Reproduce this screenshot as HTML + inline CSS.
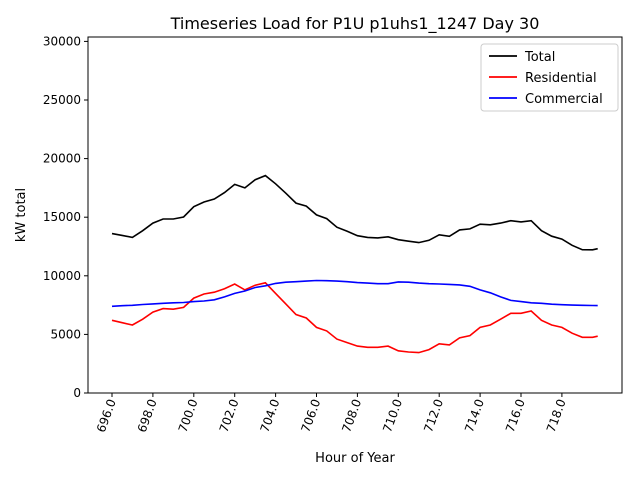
<!DOCTYPE html>
<html><head><meta charset="utf-8"><style>
body{margin:0;background:#fff;}
svg text{font-family:"DejaVu Sans","Liberation Sans",sans-serif;fill:#000;}
</style></head><body>
<svg id="chart" width="640" height="480" xmlns="http://www.w3.org/2000/svg">
<rect width="640" height="480" fill="#fff"/>
<text x="355" y="29" text-anchor="middle" font-size="16">Timeseries Load for P1U p1uhs1_1247  Day 30</text>
<g id="plot"></g>
<text x="355" y="462" text-anchor="middle" font-size="13">Hour of Year</text>
<text transform="translate(25,215) rotate(-90)" text-anchor="middle" font-size="13">kW total</text>
</svg>
<script>
const hours=[696,696.5,697,697.5,698,698.5,699,699.5,700,700.5,701,701.5,702,702.5,703,703.5,704,704.5,705,705.5,706,706.5,707,707.5,708,708.5,709,709.5,710,710.5,711,711.5,712,712.5,713,713.5,714,714.5,715,715.5,716,716.5,717,717.5,718,718.5,719,719.5,719.75];
const residential=[6200,6000,5800,6300,6900,7200,7150,7300,8100,8450,8600,8900,9300,8800,9200,9400,8500,7600,6700,6400,5600,5300,4600,4300,4000,3900,3900,4000,3600,3500,3450,3700,4200,4100,4700,4900,5600,5800,6300,6800,6800,7000,6200,5800,5600,5100,4750,4750,4850];
const commercial=[7400,7450,7480,7550,7600,7650,7700,7720,7800,7850,7950,8200,8500,8700,9000,9150,9350,9450,9500,9550,9600,9580,9550,9500,9420,9380,9330,9330,9480,9450,9380,9330,9300,9270,9220,9100,8800,8550,8200,7900,7800,7700,7650,7580,7530,7500,7480,7470,7460];
const xTicks=[696,698,700,702,704,706,708,710,712,714,716,718];
const yTicks=[0,5000,10000,15000,20000,25000,30000];
const L=88,R=622,T=37,B=393;
const x=h=>112+(h-696)*20.45;
const y=v=>393-v*(58.6/5000);
const NS="http://www.w3.org/2000/svg";
const g=document.getElementById('plot');
function mk(t,a){const e=document.createElementNS(NS,t);for(const k in a)e.setAttribute(k,a[k]);g.appendChild(e);return e;}
const total=residential.map((r,i)=>r+commercial[i]);
const series=[["total",total,"#000"],["residential",residential,"#f00"],["commercial",commercial,"#00f"]];
series.forEach(([n,d,c])=>{
  const p=mk('polyline',{points:d.map((v,i)=>x(hours[i]).toFixed(1)+','+y(v).toFixed(1)).join(' '),fill:'none',stroke:c,'stroke-width':1.6});
  
  
});
const frame=mk('rect',{x:L,y:T,width:R-L,height:B-T,fill:'none',stroke:'#000','stroke-width':1});


xTicks.forEach(t=>{
  mk('line',{x1:x(t),x2:x(t),y1:B,y2:B+4,stroke:'#000'});
  const tx=mk('text',{transform:`translate(${x(t)+4},${B+8}) rotate(-70)`,'text-anchor':'end','font-size':12});
  tx.textContent=t.toFixed(1);
  
  
});
yTicks.forEach(t=>{
  mk('line',{x1:L-4,x2:L,y1:y(t),y2:y(t),stroke:'#000'});
  const ty=mk('text',{x:L-7,y:y(t)+4,'text-anchor':'end','font-size':12});
  ty.textContent=t;
  
  
});
const lg=mk('rect',{x:481,y:44,width:137,height:67,fill:'#fff',stroke:'#ccc',rx:3});


[["Total","#000"],["Residential","#f00"],["Commercial","#00f"]].forEach(([n,c],i)=>{
  const yy=56+i*21;
  mk('line',{x1:489,x2:517,y1:yy,y2:yy,stroke:c,'stroke-width':1.8});
  const t=mk('text',{x:525,y:yy+5,'font-size':13});
  t.textContent=n;
  
  
});
</script>
</body></html>
